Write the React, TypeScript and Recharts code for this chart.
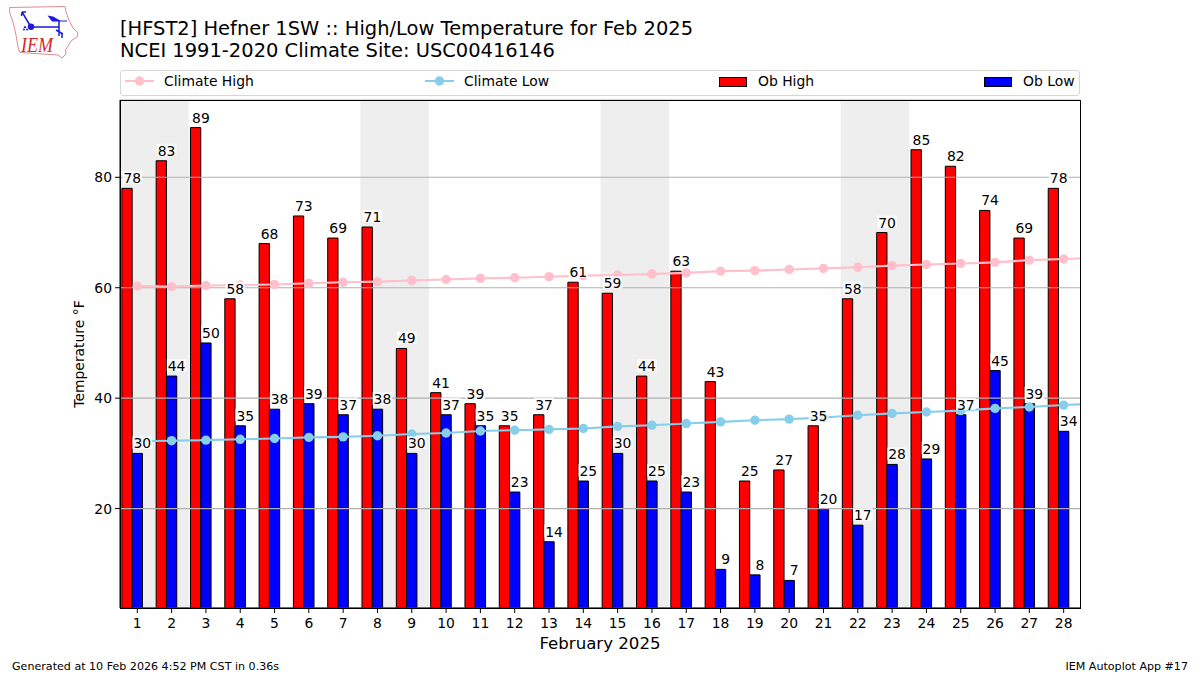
import React from "react";
import {
  ComposedChart, Bar, Line, XAxis, YAxis, CartesianGrid, ReferenceArea,
} from "recharts";

const days = [1,2,3,4,5,6,7,8,9,10,11,12,13,14,15,16,17,18,19,20,21,22,23,24,25,26,27,28];
const obHigh = [78,83,89,58,68,73,69,71,49,41,39,35,37,61,59,44,63,43,25,27,35,58,70,85,82,74,69,78];
const obLow = [30,44,50,35,38,39,37,38,30,37,35,23,14,25,30,25,23,9,8,7,20,17,28,29,37,45,39,34];
const climateHigh = [60.3,60.2,60.4,60.5,60.6,60.8,61.0,61.1,61.3,61.5,61.7,61.8,62.0,62.2,62.3,62.5,62.7,63.0,63.1,63.3,63.5,63.7,64.0,64.2,64.4,64.6,65.0,65.2,65.4];
const climateLow = [32.2,32.3,32.4,32.55,32.7,32.9,33.0,33.2,33.5,33.7,34.05,34.2,34.35,34.5,34.9,35.1,35.4,35.7,36.0,36.2,36.5,36.9,37.25,37.5,37.75,38.15,38.4,38.75,39.0];
const weekends = [[0.496,2.5],[7.5,9.5],[14.5,16.5],[21.5,23.5]];
const yTicks = [20,40,60,80];

const rows = climateHigh.map((ch, i) => ({
  day: i + 1,
  obHigh: obHigh[i] ?? null,
  obLow: obLow[i] ?? null,
  climateHigh: ch,
  climateLow: climateLow[i],
}));

const FONT = "'DejaVu Sans', sans-serif";

const valueLabel = (shift: number) => (p: any) => {
  if (p.value == null) return null;
  const cx = p.x + shift;
  const baseY = p.y - 5;
  const w = String(p.value).length * 8.85 + 2;
  return (
    <g key={`${shift}-${p.index}`}>
      <rect x={cx - w / 2} y={baseY - 12} width={w} height={12.5} fill="#fff" fillOpacity={0.8} />
      <text x={cx} y={baseY} textAnchor="middle" fontSize={13.9} fontFamily={FONT} fill="#000">{p.value}</text>
    </g>
  );
};

function Logo() {
  return (
    <svg width={90} height={65} style={{ position: "absolute", left: 0, top: 0 }}>
      <path d="M9.5 7.5L65 6.5L66 12L69 20L73 28L78 33L77 37L71 41L68 46L65.5 50L66 54L62 58L58 55L20 52.5L18 47L16 35L13 22L10 14Z" fill="none" stroke="#e08c8c" strokeWidth={1} />
      <path d="M31 27H59M59 20V36M22 12L31 27M22 12H26M22 12L21.5 16M56 30L63 34M62 34V38" fill="none" stroke="#1a1ad8" strokeWidth={1.5} />
      <path d="M47.5 15.5L53 16.5L60 20.5H67V21.5H52Z" fill="#1a1ad8" />
      <circle cx={31} cy={26.7} r={3.2} fill="#1a1ad8" />
      <path d="M25 25.5L26.5 28H23.5Z" fill="#1a1ad8" />
      <circle cx={24} cy={29.5} r={1} fill="#1a1ad8" />
      <circle cx={27} cy={29.5} r={1} fill="#1a1ad8" />
      <text x={21} y={52} fontFamily="'Liberation Serif', serif" fontStyle="italic" fontSize={22} textLength={32} lengthAdjust="spacingAndGlyphs" fill="#d42a2a">IEM</text>
    </svg>
  );
}

const abs = (s: React.CSSProperties): React.CSSProperties => ({
  position: "absolute", fontFamily: FONT, color: "#000", whiteSpace: "nowrap", lineHeight: 1, ...s,
});

function LegendBox() {
  const lineSwatch = (x: number, color: string) => (
    <svg style={{ position: "absolute", left: x, top: 3 }} width={30} height={14}>
      <line x1={0} x2={29} y1={7} y2={7} stroke={color} strokeWidth={2} />
      <circle cx={14.5} cy={7} r={4.7} fill={color} />
    </svg>
  );
  const barSwatch = (x: number, color: string) => (
    <div style={{ position: "absolute", left: x, top: 6, width: 26, height: 8, background: color, border: "1px solid #000" }} />
  );
  const label = (x: number, t: string) => (
    <span style={abs({ left: x, top: 4, fontSize: 13.9 })}>{t}</span>
  );
  return (
    <div style={{ position: "absolute", left: 120, top: 70, width: 958, height: 24, border: "1px solid #d6d6d6", borderRadius: 3 }}>
      {lineSwatch(4, "#ffc0cb")}{label(43, "Climate High")}
      {lineSwatch(304, "#87ceeb")}{label(343, "Climate Low")}
      {barSwatch(598, "#ff0000")}{label(637, "Ob High")}
      {barSwatch(863, "#0000ff")}{label(902, "Ob Low")}
    </div>
  );
}

export default function App() {
  return (
    <div style={{ position: "absolute", left: 0, top: 0, width: 1200, height: 675, background: "#fff", overflow: "hidden" }}>
      <Logo />
      <div style={abs({ left: 120, top: 19, fontSize: 19.47 })}>[HFST2] Hefner 1SW :: High/Low Temperature for Feb 2025</div>
      <div style={abs({ left: 120, top: 41, fontSize: 19.47 })}>NCEI 1991-2020 Climate Site: USC00416146</div>
      <LegendBox />
      <ComposedChart
        width={1200}
        height={675}
        data={rows}
        barGap={0}
        margin={{ top: 100, right: 120, bottom: 17, left: 60 }}
        style={{ position: "absolute", left: 0, top: 0 }}
      >
        {weekends.map(([a, b]) => (
          <ReferenceArea key={a} x1={a} x2={b} fill="#eeeeee" fillOpacity={1} stroke="none" ifOverflow="hidden" />
        ))}
        <XAxis
          dataKey="day"
          type="number"
          domain={[0.496, 28.476]}
          allowDataOverflow
          ticks={days}
          interval={0}
          height={50}
          tickSize={5}
          tickMargin={5}
          stroke="#000"
          tick={{ fontSize: 13.9, fontFamily: FONT, fill: "#000" }}
          label={{ value: "February 2025", position: "insideBottom", offset: 9, fontSize: 16.6, fontFamily: FONT, fill: "#000" }}
        />
        <XAxis xAxisId="bars" dataKey="day" type="number" domain={[0.65, 28.63]} allowDataOverflow ticks={days} hide />
        <YAxis
          type="number"
          domain={[2, 94]}
          allowDataOverflow
          ticks={yTicks}
          width={60}
          tickSize={5}
          tickMargin={3}
          stroke="#000"
          tick={{ fontSize: 13.9, fontFamily: FONT, fill: "#000" }}
          label={{ value: "Temperature °F", angle: -90, position: "insideLeft", offset: 19, fontSize: 13.9, fontFamily: FONT, fill: "#000", style: { textAnchor: "middle" } }}
        />
        <Bar xAxisId="bars" dataKey="obHigh" barSize={10.3} fill="#ff0000" stroke="#000" strokeWidth={1} isAnimationActive={false} />
        <Bar xAxisId="bars" dataKey="obLow" barSize={10.3} fill="#0000ff" stroke="#000" strokeWidth={1} isAnimationActive={false} />
        <CartesianGrid vertical={false} stroke="#b0b0b0" strokeWidth={1.1} zIndex={350} />
        <Line dataKey="climateHigh" stroke="#ffc0cb" strokeWidth={2.1} dot={{ r: 4.7, fill: "#ffc0cb", stroke: "none" }} isAnimationActive={false} />
        <Line dataKey="climateLow" stroke="#87ceeb" strokeWidth={2.1} dot={{ r: 4.7, fill: "#87ceeb", stroke: "none" }} isAnimationActive={false} />
        <Line dataKey="obHigh" stroke="none" dot={false} activeDot={false} legendType="none" label={valueLabel(-5)} isAnimationActive={false} />
        <Line dataKey="obLow" stroke="none" dot={false} activeDot={false} legendType="none" label={valueLabel(5)} isAnimationActive={false} />
      </ComposedChart>
      <div style={{ position: "absolute", left: 120, top: 100, width: 959, height: 507, border: "1px solid #000", pointerEvents: "none" }} />
      <div style={abs({ left: 12, top: 661, fontSize: 11.1 })}>Generated at 10 Feb 2026 4:52 PM CST in 0.36s</div>
      <div style={abs({ right: 12, top: 661, fontSize: 11.1 })}>IEM Autoplot App #17</div>
    </div>
  );
}
